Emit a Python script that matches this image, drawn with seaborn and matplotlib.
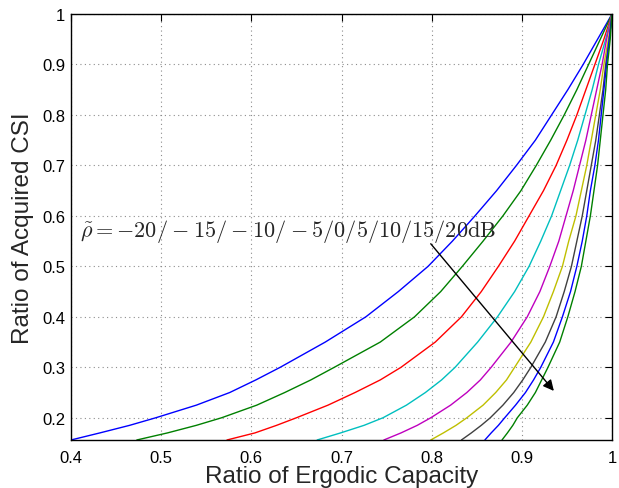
import pandas as pd
import matplotlib
matplotlib.use('Agg')
import matplotlib.pyplot as plt
import seaborn as sns

# values: capacity ratio of each curve at common CSI ratios
rho_db = [-20, -15, -10, -5, 0, 5, 10, 15, 20]

csi_levels = [0.156, 0.17, 0.185, 0.2, 0.225, 0.25, 0.275, 0.3, 0.35, 0.4, 0.45,
              0.5, 0.55, 0.6, 0.65, 0.7, 0.75, 0.8, 0.85, 0.9, 0.95, 1.0]

cap_m20 = [0.400, 0.432, 0.465, 0.494, 0.539, 0.576, 0.605, 0.632, 0.682, 0.727, 0.763,
           0.796, 0.823, 0.848, 0.872, 0.894, 0.915, 0.933, 0.951, 0.968, 0.984, 1.000]
cap_m15 = [0.473, 0.507, 0.539, 0.567, 0.606, 0.637, 0.666, 0.692, 0.743, 0.781, 0.810,
           0.834, 0.857, 0.879, 0.899, 0.916, 0.932, 0.947, 0.961, 0.974, 0.987, 1.000]
cap_m10 = [0.573, 0.604, 0.628, 0.650, 0.685, 0.715, 0.743, 0.766, 0.804, 0.833, 0.855,
           0.874, 0.892, 0.908, 0.924, 0.938, 0.950, 0.961, 0.971, 0.981, 0.991, 1.000]
cap_m5 = [0.673, 0.699, 0.725, 0.746, 0.772, 0.793, 0.811, 0.826, 0.851, 0.873, 0.892,
          0.908, 0.921, 0.933, 0.943, 0.953, 0.962, 0.970, 0.978, 0.985, 0.993, 1.000]
cap_0 = [0.747, 0.766, 0.784, 0.799, 0.821, 0.839, 0.854, 0.866, 0.888, 0.906, 0.920,
         0.931, 0.941, 0.949, 0.957, 0.964, 0.971, 0.977, 0.983, 0.989, 0.994, 1.000]
cap_5 = [0.799, 0.813, 0.827, 0.839, 0.857, 0.871, 0.883, 0.892, 0.910, 0.924, 0.935,
         0.945, 0.952, 0.960, 0.966, 0.972, 0.977, 0.982, 0.987, 0.991, 0.996, 1.000]
cap_10 = [0.833, 0.844, 0.855, 0.865, 0.879, 0.891, 0.901, 0.910, 0.926, 0.938, 0.947,
          0.955, 0.961, 0.967, 0.972, 0.977, 0.982, 0.986, 0.990, 0.993, 0.997, 1.000]
cap_15 = [0.859, 0.866, 0.874, 0.881, 0.893, 0.904, 0.913, 0.921, 0.935, 0.945, 0.954,
          0.961, 0.967, 0.972, 0.976, 0.981, 0.985, 0.988, 0.991, 0.994, 0.997, 1.000]
cap_20 = [0.878, 0.884, 0.890, 0.895, 0.906, 0.915, 0.922, 0.929, 0.942, 0.951, 0.959,
          0.966, 0.971, 0.976, 0.980, 0.984, 0.987, 0.990, 0.993, 0.995, 0.998, 1.000]

caps = [cap_m20, cap_m15, cap_m10, cap_m5, cap_0, cap_5, cap_10, cap_15, cap_20]

# MATLAB default line colour order (wraps after 7)
colors = [(0, 0, 1), (0, 0.5, 0), (1, 0, 0), (0, 0.75, 0.75), (0.75, 0, 0.75),
          (0.75, 0.75, 0), (0.25, 0.25, 0.25), (0, 0, 1), (0, 0.5, 0)]

rows = []
for r, xs in zip(rho_db, caps):
    for a, b in zip(xs, csi_levels):
        rows.append({'rho': str(r), 'capacity': a, 'csi': b})
df = pd.DataFrame(rows)

sns.set_style('white')
plt.rcParams['font.family'] = ['Liberation Sans', 'DejaVu Sans']
plt.rcParams['mathtext.fontset'] = 'cm'

fig = plt.figure(figsize=(6.19, 4.89), dpi=100)
ax = fig.add_axes([0.1147, 0.0982, 0.8740, 0.8711])

sns.lineplot(data=df, x='capacity', y='csi', hue='rho', units='rho', estimator=None,
             sort=False, palette=colors, hue_order=[str(r) for r in rho_db],
             linewidth=1.0, legend=False, ax=ax)

ax.set_xlim(0.4, 1.0)
ax.set_ylim(0.156, 1.0)
ax.set_xticks([0.4, 0.5, 0.6, 0.7, 0.8, 0.9, 1.0])
ax.set_xticklabels(['0.4', '0.5', '0.6', '0.7', '0.8', '0.9', '1'])
ax.set_yticks([0.2, 0.3, 0.4, 0.5, 0.6, 0.7, 0.8, 0.9, 1.0])
ax.set_yticklabels(['0.2', '0.3', '0.4', '0.5', '0.6', '0.7', '0.8', '0.9', '1'])
ax.grid(True, linestyle=(0, (1, 3)), color='0.55', linewidth=0.8)
ax.tick_params(direction='in', length=5, width=0.8, top=True, right=True,
               labelsize=12, colors='k')
ax.tick_params(axis='x', pad=7)
ax.tick_params(axis='y', pad=4)
for s in ax.spines.values():
    s.set_color('k')
    s.set_linewidth(1.0)

ax.set_xlabel('Ratio of Ergodic Capacity', fontsize=17.5, labelpad=0)
ax.set_ylabel('Ratio of Acquired CSI', fontsize=17.5, labelpad=6)

ax.text(0.41, 0.571,
        r'$\tilde{\rho}=-20/\:-\:15/\:-\:10/\:-\:5/0/5/10/15/20\mathrm{dB}$',
        fontsize=16, va='center', ha='left')
ax.annotate('', xy=(0.9375, 0.249), xytext=(0.797, 0.549),
            arrowprops=dict(arrowstyle='-|>', color='k', lw=1.0, mutation_scale=16))

fig.savefig('out.png', dpi=100)
